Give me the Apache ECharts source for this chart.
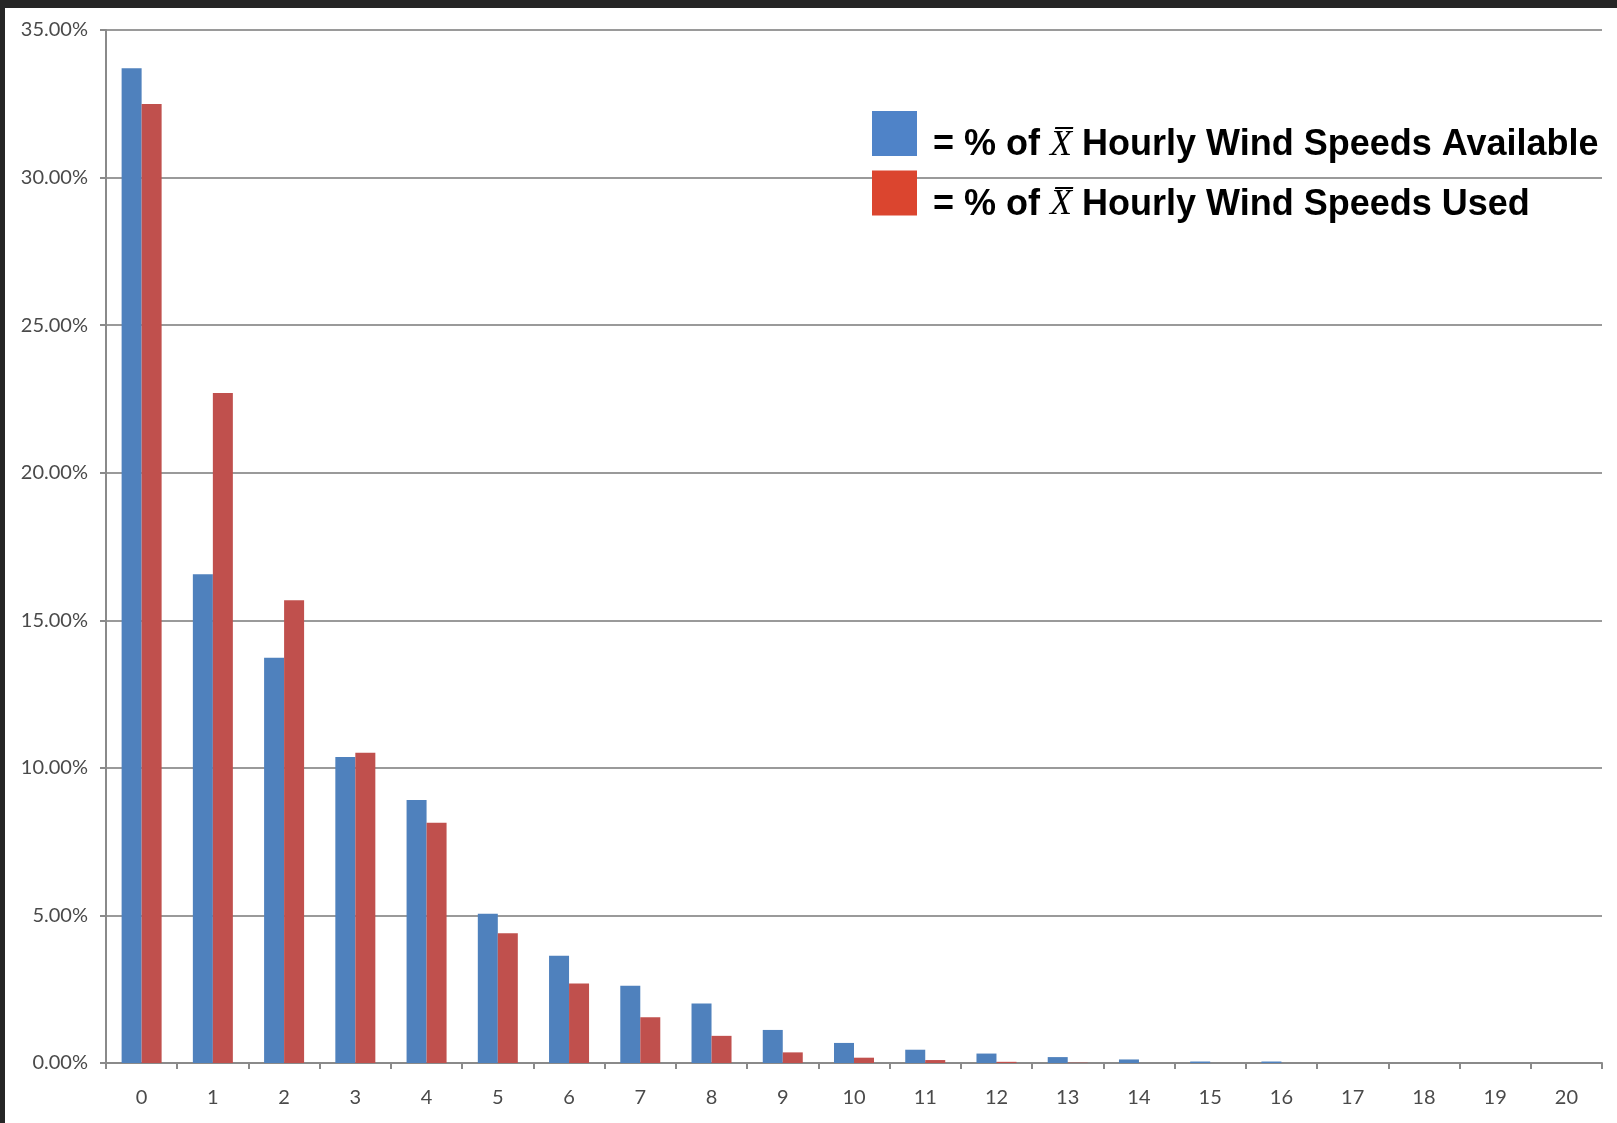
<!DOCTYPE html>
<html>
<head>
<meta charset="utf-8">
<script src="https://cdn.jsdelivr.net/npm/echarts@6/dist/echarts.min.js"></script>
<style>
html,body{margin:0;padding:0;width:1617px;height:1123px;background:#262626;overflow:hidden;}
#chart{position:absolute;left:5px;top:8px;width:1612px;height:1115px;background:#ffffff;}
</style>
</head>
<body>
<div id="chart"></div>
<script>
const categories = ['0','1','2','3','4','5','6','7','8','9','10','11','12','13','14','15','16','17','18','19','20'];
const availableValues = [33.70, 16.56, 13.73, 10.37, 8.91, 5.06, 3.63, 2.62, 2.02, 1.12, 0.68, 0.45, 0.32, 0.20, 0.12, 0.05, 0.05, 0, 0, 0, 0];
const usedValues = [32.49, 22.70, 15.68, 10.51, 8.14, 4.40, 2.69, 1.55, 0.92, 0.36, 0.18, 0.10, 0.04, 0.01, 0, 0, 0, 0, 0, 0, 0];
const seriesNames = ['Available', 'Used'];
const legendPrefix = '= % of ';
const legendSymbol = 'X\u0305';
const legendSuffixes = [' Hourly Wind Speeds Available', ' Hourly Wind Speeds Used'];
const yTicks = [0, 5, 10, 15, 20, 25, 30, 35];

const chart = echarts.init(document.getElementById('chart'));
const option = {
  animation: false,
  backgroundColor: '#ffffff',
  grid: { left: 101, top: 22, right: 15, bottom: 60, containLabel: false },
  legend: {
    orient: 'vertical',
    left: 862,
    top: 98,
    itemWidth: 45,
    itemHeight: 45,
    itemGap: 7,
    icon: 'rect',
    data: [
      { name: seriesNames[0], itemStyle: { color: '#4F83C8' } },
      { name: seriesNames[1], itemStyle: { color: '#DB452F' } }
    ],
    formatter: function (name) {
      const i = seriesNames.indexOf(name);
      return '{t|' + legendPrefix + '}{x|' + legendSymbol + '}{t|' + legendSuffixes[i] + '}';
    },
    textStyle: {
      padding: [24, 0, 0, 11],
      rich: {
        t: { fontFamily: 'Liberation Sans', fontWeight: 'bold', fontSize: 36, color: '#000000' },
        x: { fontFamily: 'Liberation Serif', fontStyle: 'italic', fontSize: 36, color: '#000000' }
      }
    }
  },
  xAxis: {
    type: 'category',
    data: categories,
    boundaryGap: true,
    axisLine: { lineStyle: { color: '#8a8a8a', width: 2 } },
    axisTick: { show: true, alignWithLabel: false, length: 6, lineStyle: { color: '#8a8a8a', width: 2 } },
    axisLabel: { margin: 25, fontFamily: 'Lato', fontSize: 20, color: '#4a4a4a' }
  },
  yAxis: {
    type: 'value',
    min: 0,
    max: 35,
    interval: 5,
    axisLine: { show: true, lineStyle: { color: '#8a8a8a', width: 2 } },
    axisTick: { show: true, length: 6, lineStyle: { color: '#8a8a8a', width: 2 } },
    splitLine: { show: true, lineStyle: { color: '#9a9a9a', width: 2 } },
    axisLabel: {
      margin: 18,
      fontFamily: 'Lato',
      fontSize: 20,
      color: '#4a4a4a',
      formatter: function (v) { return v.toFixed(2) + '%'; }
    }
  },
  series: [
    {
      name: seriesNames[0], type: 'bar', data: availableValues,
      barWidth: 20, barGap: '0%',
      itemStyle: { color: '#4F81BD' }
    },
    {
      name: seriesNames[1], type: 'bar', data: usedValues,
      barWidth: 20, barGap: '0%',
      itemStyle: { color: '#C0504D' }
    }
  ]
};
chart.setOption(option);
</script>
</body>
</html>
